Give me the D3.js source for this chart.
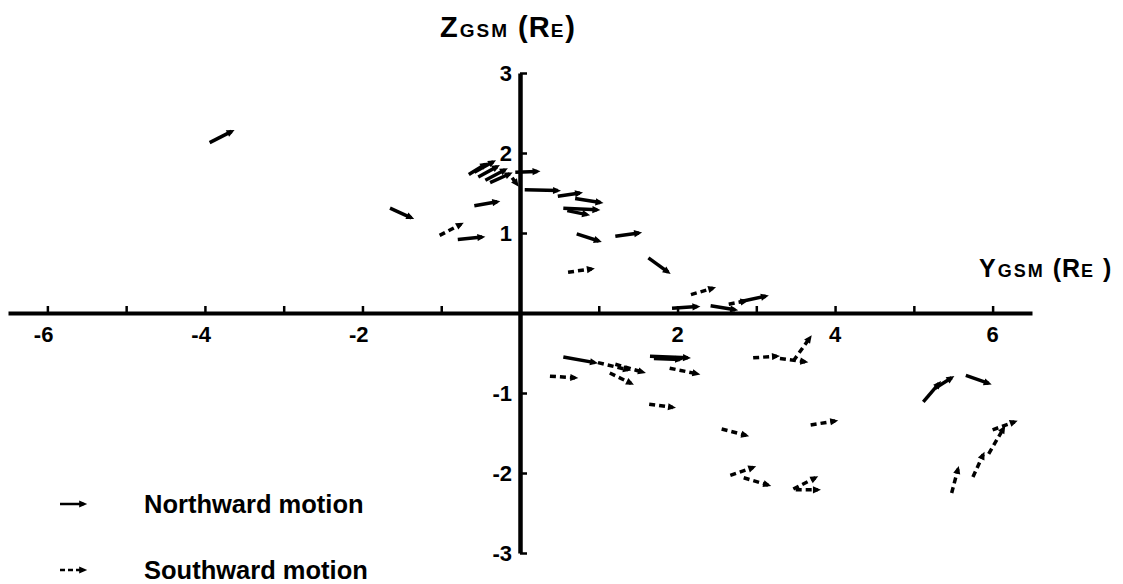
<!DOCTYPE html>
<html>
<head>
<meta charset="UTF-8">
<title>Northward / Southward motion in GSM</title>
<script src="https://d3js.org/d3.v7.min.js"></script>
<style>
  body{ margin:0; background:#fff; }
  svg{ display:block; background:#fff; font-family:"Liberation Sans", Arial, sans-serif; font-weight:bold; }
</style>
</head>
<body>
<svg id="chart"></svg>
<script>
// each row: [y start, z start, y end, z end] in Earth radii
const northward = [
  [-3.94, 2.13, -3.66, 2.27],
  [-1.65, 1.31, -1.38, 1.19],
  [-0.58, 1.34, -0.29, 1.39],
  [-0.79, 0.92, -0.48, 0.95],
  [-0.65, 1.73, -0.44, 1.86],
  [-0.58, 1.76, -0.34, 1.89],
  [-0.53, 1.70, -0.29, 1.83],
  [-0.44, 1.66, -0.19, 1.79],
  [-0.38, 1.63, -0.13, 1.74],
  [-0.06, 1.76, 0.22, 1.77],
  [0.06, 1.54, 0.48, 1.53],
  [0.48, 1.46, 0.76, 1.50],
  [0.70, 1.43, 1.02, 1.38],
  [0.55, 1.31, 0.98, 1.29],
  [0.60, 1.28, 0.85, 1.23],
  [0.72, 0.99, 1.00, 0.90],
  [1.21, 0.96, 1.51, 1.00],
  [1.63, 0.69, 1.88, 0.51],
  [1.93, 0.06, 2.25, 0.08],
  [2.42, 0.09, 2.73, 0.04],
  [2.79, 0.14, 3.12, 0.21],
  [0.55, -0.55, 0.95, -0.62],
  [1.65, -0.54, 2.13, -0.56],
  [1.70, -0.57, 2.03, -0.58],
  [5.12, -1.11, 5.32, -0.88],
  [5.27, -0.94, 5.48, -0.81],
  [5.66, -0.78, 5.95, -0.88]
];

const southward = [
  [-1.02, 0.97, -0.75, 1.11],
  [-0.10, 1.69, -0.04, 1.61],
  [0.61, 0.51, 0.91, 0.55],
  [2.17, 0.23, 2.45, 0.31],
  [2.65, 0.11, 2.86, 0.15],
  [0.38, -0.79, 0.70, -0.81],
  [0.99, -0.62, 1.37, -0.71],
  [1.21, -0.64, 1.56, -0.74],
  [1.14, -0.75, 1.41, -0.88],
  [1.90, -0.69, 2.25, -0.76],
  [1.64, -1.14, 1.94, -1.18],
  [2.96, -0.56, 3.26, -0.54],
  [3.30, -0.57, 3.62, -0.61],
  [3.47, -0.60, 3.68, -0.31],
  [2.56, -1.45, 2.87, -1.53],
  [3.69, -1.40, 4.00, -1.35],
  [2.67, -2.03, 2.96, -1.93],
  [2.84, -2.06, 3.15, -2.15],
  [3.47, -2.20, 3.75, -2.06],
  [3.50, -2.21, 3.78, -2.21],
  [6.00, -1.46, 6.28, -1.36],
  [5.95, -1.76, 6.14, -1.44],
  [5.75, -2.05, 5.88, -1.77],
  [5.48, -2.25, 5.56, -1.95]
];

const yTicks = [-6, -5, -4, -3, -2, -1, 1, 2, 3, 4, 5, 6];
const yTickLabels = [-6, -4, -2, 2, 4, 6];
const zTicks = [-3, -2, -1, 1, 2, 3];
const legendLabels = ["Northward motion", "Southward motion"];

const width = 1123;
const height = 584;

const svg = d3.select("#chart")
  .attr("width", width)
  .attr("height", height);

const x = d3.scaleLinear().domain([-6.5, 6.5]).range([8, 1032]);
const z = d3.scaleLinear().domain([-3, 3]).range([553, 73]);

const defs = svg.append("defs");
defs.append("marker")
  .attr("id", "head")
  .attr("viewBox", "0 -5 10 10")
  .attr("refX", 6)
  .attr("refY", 0)
  .attr("markerUnits", "userSpaceOnUse")
  .attr("markerWidth", 9)
  .attr("markerHeight", 8)
  .attr("orient", "auto")
  .append("path")
  .attr("d", "M0,-4.5L10,0L0,4.5Z")
  .attr("fill", "#000");

// horizontal axis (Y GSM)
const xAxis = svg.append("g")
  .attr("transform", `translate(0, ${z(0)})`)
  .call(d3.axisTop(x).tickValues(yTicks).tickSize(7).tickSizeOuter(0).tickFormat(""));
xAxis.select(".domain").attr("stroke", "#000").attr("stroke-width", 4);
xAxis.selectAll(".tick line").attr("stroke", "#000").attr("stroke-width", 2.5);

svg.append("g").selectAll("text")
  .data(yTickLabels)
  .join("text")
  .attr("x", d => d < 0 ? x(d) + 6 : x(d))
  .attr("y", z(0) + 29)
  .attr("text-anchor", d => d < 0 ? "end" : "middle")
  .attr("font-size", 22)
  .text(d => d);

// vertical axis (Z GSM)
const zAxis = svg.append("g")
  .attr("transform", `translate(${x(0)}, 0)`)
  .call(d3.axisRight(z).tickValues(zTicks).tickSize(7).tickSizeOuter(0).tickFormat(""));
zAxis.select(".domain").attr("stroke", "#000").attr("stroke-width", 4.5);
zAxis.selectAll(".tick line").attr("stroke", "#000").attr("stroke-width", 2.5);

svg.append("g").selectAll("text")
  .data(zTicks)
  .join("text")
  .attr("x", x(0) - 8)
  .attr("y", d => z(d))
  .attr("dy", "0.38em")
  .attr("text-anchor", "end")
  .attr("font-size", 22)
  .text(d => d);

// axis titles
const zTitle = svg.append("text").attr("x", 440).attr("y", 37)
  .attr("font-size", 29).attr("letter-spacing", 1);
zTitle.append("tspan").text("Z");
zTitle.append("tspan").attr("font-size", 19).attr("dx", 1).attr("letter-spacing", 2).text("GSM");
zTitle.append("tspan").text(" (R");
zTitle.append("tspan").attr("font-size", 19).attr("letter-spacing", 2).text("E");
zTitle.append("tspan").text(")");

const yTitle = svg.append("text").attr("x", 979).attr("y", 277)
  .attr("font-size", 25).attr("letter-spacing", 1);
yTitle.append("tspan").text("Y");
yTitle.append("tspan").attr("font-size", 18).attr("dx", 1).attr("letter-spacing", 2).text("GSM");
yTitle.append("tspan").text(" (R");
yTitle.append("tspan").attr("font-size", 18).attr("letter-spacing", 2).text("E");
yTitle.append("tspan").text(" )");

// arrows
const arrows = svg.append("g");
arrows.selectAll("line.north")
  .data(northward)
  .join("line")
  .attr("class", "north")
  .attr("x1", d => x(d[0])).attr("y1", d => z(d[1]))
  .attr("x2", d => x(d[2])).attr("y2", d => z(d[3]))
  .attr("stroke", "#000")
  .attr("stroke-width", 3.5)
  .attr("marker-end", "url(#head)");

arrows.selectAll("line.south")
  .data(southward)
  .join("line")
  .attr("class", "south")
  .attr("x1", d => x(d[0])).attr("y1", d => z(d[1]))
  .attr("x2", d => x(d[2])).attr("y2", d => z(d[3]))
  .attr("stroke", "#000")
  .attr("stroke-width", 3.5)
  .attr("stroke-dasharray", "6,4")
  .attr("marker-end", "url(#head)");

// legend
const legend = svg.append("g").selectAll("g")
  .data(legendLabels)
  .join("g")
  .attr("transform", (d, i) => `translate(0, ${504 + i * 66})`);

legend.append("line")
  .attr("x1", 60).attr("x2", 84)
  .attr("y1", 0).attr("y2", 0)
  .attr("stroke", "#000")
  .attr("stroke-width", 2.5)
  .attr("stroke-dasharray", (d, i) => i === 0 ? null : "5,3")
  .attr("marker-end", "url(#head)");

legend.append("text")
  .attr("x", 144)
  .attr("y", 9)
  .attr("font-size", 25.5)
  .text(d => d);
</script>
</body>
</html>
